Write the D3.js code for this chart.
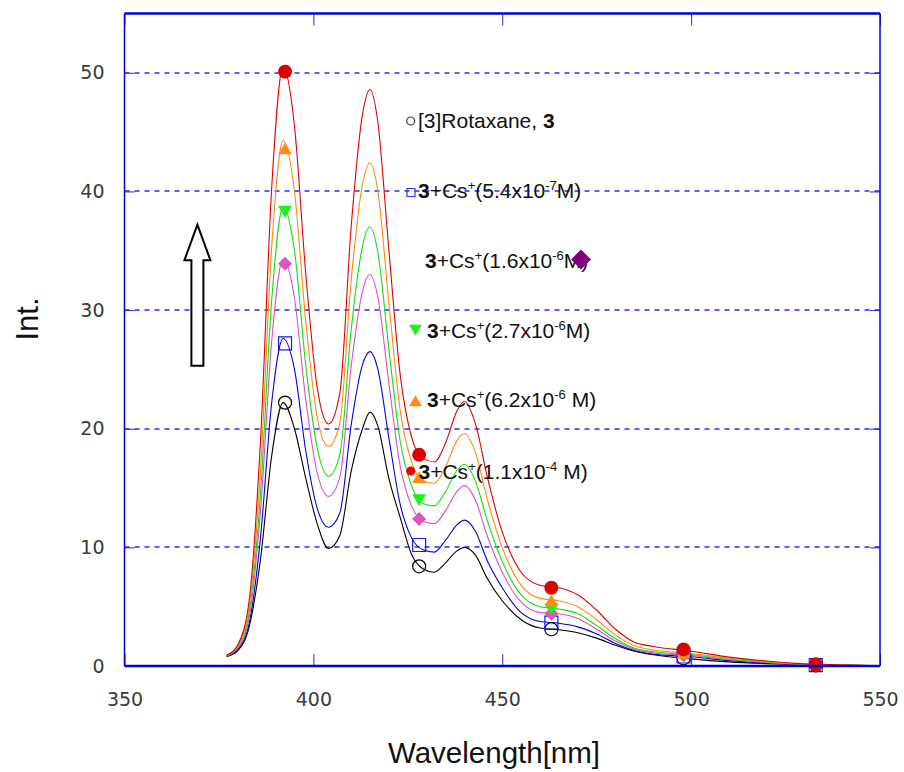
<!DOCTYPE html>
<html>
<head>
<meta charset="utf-8">
<script src="https://cdn.jsdelivr.net/npm/d3@7"></script>
<style>
  body { margin: 0; background: #fff; }
  svg { display: block; }
</style>
</head>
<body>
<svg width="904" height="772"></svg>
<script>
// sample wavelengths of the spectra (nm)
let wavelengths = [377, 380, 383, 386, 389, 392, 395, 398, 401, 404, 407, 410, 413, 415, 417, 420, 423, 426, 429, 432,
  435, 438, 440, 443, 446, 450, 455, 460, 465, 470, 475, 480, 485, 490, 500, 510, 520, 530, 540, 550];

let rotaxane = [0.8, 1.3, 3.3, 9, 17.8, 22.2, 20, 15.8, 12.0, 9.9, 11.0, 16.4, 20, 21.4, 20.3, 15.8, 12.5, 9.4, 8.2, 7.9,
  8.7, 9.7, 10.0, 9.3, 7.4, 5.5, 3.9, 3.2, 3.05, 2.8, 2.35, 1.75, 1.25, 0.95, 0.6, 0.35, 0.2, 0.1, 0.05, 0.02];
let cs54e7 = [0.8, 1.4, 3.6, 10.8, 22.3, 27.6, 25, 18.1, 13.3, 11.7, 12.9, 20.3, 25.4, 26.5, 25.1, 19.2, 13.6, 10.8, 9.8, 9.6,
  10.6, 11.9, 12.3, 11.3, 8.9, 6.6, 4.5, 3.75, 3.6, 3.3, 2.7, 1.9, 1.3, 1.0, 0.78, 0.45, 0.25, 0.11, 0.05, 0.02];
let cs16e6 = [0.85, 1.5, 4.1, 13, 27.5, 34.3, 31, 22.4, 16.3, 14.3, 15.9, 25.2, 31.6, 33, 31.2, 23.8, 16.8, 13.5, 12.2, 12.0,
  13.1, 14.7, 15.2, 13.9, 11.0, 7.9, 5.4, 4.5, 4.4, 4.0, 3.1, 2.1, 1.4, 1.1, 0.88, 0.53, 0.3, 0.13, 0.06, 0.03];
let cs27e6 = [0.85, 1.6, 4.5, 14.5, 31, 38.7, 35, 25.3, 18.4, 16.0, 17.8, 28.3, 35.4, 37, 35, 26.7, 18.9, 15.2, 13.7, 13.5,
  14.7, 16.5, 17.0, 15.5, 12.3, 8.8, 6.0, 5.0, 4.8, 4.4, 3.4, 2.3, 1.5, 1.2, 0.95, 0.58, 0.32, 0.14, 0.06, 0.03];
let cs62e6 = [0.9, 1.7, 5, 16.5, 35.5, 44.3, 40, 29, 21, 18.5, 20.5, 32.5, 40.6, 42.4, 40.2, 30.6, 21.5, 17.2, 15.6, 15.4,
  16.8, 19.0, 19.6, 17.9, 14.1, 10.0, 6.8, 5.7, 5.5, 5.0, 3.9, 2.6, 1.7, 1.35, 1.05, 0.65, 0.36, 0.15, 0.07, 0.03];
let cs11e4 = [0.9, 1.8, 5.5, 19, 40.5, 50.5, 45.5, 33, 23.5, 20.4, 23, 37, 46.5, 48.6, 46, 35, 24.5, 19.3, 17.5, 17.2,
  18.8, 21.5, 22.3, 20.3, 16, 11.3, 7.9, 6.8, 6.6, 6.0, 4.7, 3.1, 2.0, 1.65, 1.25, 0.75, 0.42, 0.18, 0.08, 0.04];

// symbol positions along each spectrum
let markerWl = [392.5, 428, 463, 498, 533];
let mRotaxane = [22.2, 8.4, 3.1, 0.65, 0.05];
let mCs54e7 = [27.2, 10.2, 3.65, 0.8, 0.08];
let mCs16e6 = [33.9, 12.4, 4.4, 0.9, 0.1];
let mCs27e6 = [38.3, 14.0, 4.8, 1.0, 0.1];
let mCs62e6 = [43.6, 15.9, 5.5, 1.1, 0.12];
let mCs11e4 = [50.1, 17.8, 6.6, 1.4, 0.15];

let xTicks = [350, 400, 450, 500, 550];
let yTicks = [0, 10, 20, 30, 40, 50];

let svg = d3.select("svg"),
    width = +svg.attr("width"),
    height = +svg.attr("height");

let x = d3.scaleLinear().domain([350, 550]).range([124.5, 880]);
let y = d3.scaleLinear().domain([0, 55]).range([666, 13.5]);

// custom symbol shapes, size = half width in px
let shapes = {
  circle: (p, r) => { p.moveTo(r, 0); p.arc(0, 0, r, 0, 2 * Math.PI); },
  square: (p, r) => { p.rect(-r, -r, 2 * r, 2 * r); },
  diamond: (p, r) => { p.moveTo(0, -r); p.lineTo(r, 0); p.lineTo(0, r); p.lineTo(-r, 0); p.closePath(); },
  triUp: (p, r) => { p.moveTo(0, -r * 0.9); p.lineTo(r, r * 0.8); p.lineTo(-r, r * 0.8); p.closePath(); },
  triDown: (p, r) => { p.moveTo(0, r * 0.9); p.lineTo(r, -r * 0.8); p.lineTo(-r, -r * 0.8); p.closePath(); }
};
function symbolPath(shape, r) {
  let p = d3.path();
  shapes[shape](p, r);
  return p.toString();
}

let series = [
  {values: rotaxane, marks: mRotaxane, color: "#000000", shape: "circle", r: 6.5, fill: "none", stroke: "#000"},
  {values: cs54e7, marks: mCs54e7, color: "#0000e0", shape: "square", r: 6.5, fill: "none", stroke: "#1a1ad8"},
  {values: cs16e6, marks: mCs16e6, color: "#e050c0", shape: "diamond", r: 7, fill: "#dd55bb", stroke: "none"},
  {values: cs27e6, marks: mCs27e6, color: "#10e010", shape: "triDown", r: 7, fill: "#22ee22", stroke: "none"},
  {values: cs62e6, marks: mCs62e6, color: "#ff8a10", shape: "triUp", r: 7, fill: "#ff8c1a", stroke: "none"},
  {values: cs11e4, marks: mCs11e4, color: "#e00000", shape: "circle", r: 7, fill: "#dd0000", stroke: "none"}
];

// grid lines
svg.append("g")
  .selectAll("line")
  .data(yTicks.filter(d => d > 0))
  .enter().append("line")
  .attr("x1", x(350)).attr("x2", x(550))
  .attr("y1", d => Math.round(y(d))).attr("y2", d => Math.round(y(d)))
  .style("stroke", "#2828f5")
  .attr("stroke-width", 1.3)
  .attr("stroke-dasharray", "5,5");

// spectra
let line = d3.line()
  .x((d, i) => x(wavelengths[i]))
  .y(d => y(d))
  .curve(d3.curveMonotoneX);

svg.append("g")
  .selectAll("path")
  .data(series)
  .enter().append("path")
  .attr("d", d => line(d.values))
  .attr("fill", "none")
  .attr("stroke", d => d.color)
  .attr("stroke-width", 1.1);

// symbols
let mg = svg.append("g");
series.forEach(s => {
  mg.selectAll(null)
    .data(s.marks)
    .enter().append("path")
    .attr("transform", (d, i) => `translate(${x(markerWl[i])},${y(d)})`)
    .attr("d", symbolPath(s.shape, s.r))
    .attr("fill", s.fill)
    .attr("stroke", s.stroke)
    .attr("stroke-width", 1.2);
});

// axes (ticks point inward)
let fontTick = "'DejaVu Sans', sans-serif";
let yAxis = svg.append("g")
  .attr("transform", `translate(${x(350)},0)`)
  .call(d3.axisLeft(y).tickValues(yTicks).tickSize(-10).tickPadding(20).tickFormat(d3.format("d")));
let yAxisR = svg.append("g")
  .attr("transform", `translate(${x(550)},0)`)
  .call(d3.axisRight(y).tickValues(yTicks).tickSize(-10).tickFormat(""));
let xAxis = svg.append("g")
  .attr("transform", `translate(0,${y(0)})`)
  .call(d3.axisBottom(x).tickValues(xTicks).tickSize(-12).tickPadding(27));
let xAxisT = svg.append("g")
  .attr("transform", `translate(0,${y(55)})`)
  .call(d3.axisTop(x).tickValues(xTicks).tickSize(-12).tickFormat(""));

[yAxis, yAxisR, xAxis, xAxisT].forEach(a => {
  a.select(".domain").remove();
  a.selectAll(".tick line").attr("stroke", "#2a2ad8");
  a.selectAll("text")
    .attr("font-family", fontTick)
    .attr("font-size", 19)
    .attr("fill", "#3a3a3a");
});

// frame
let frame = svg.append("g").attr("stroke", "#0000d8");
frame.append("line").attr("x1", x(350)).attr("x2", x(350)).attr("y1", y(55)).attr("y2", y(0)).attr("stroke-width", 1.5);
frame.append("line").attr("x1", x(550)).attr("x2", x(550)).attr("y1", y(55)).attr("y2", y(0)).attr("stroke-width", 1.5);
frame.append("line").attr("x1", x(350)).attr("x2", x(550)).attr("y1", y(55)).attr("y2", y(55)).attr("stroke-width", 2.5);
frame.append("line").attr("x1", x(350)).attr("x2", x(550)).attr("y1", y(0)).attr("y2", y(0)).attr("stroke-width", 2.5);

// axis titles
svg.append("text")
  .attr("x", 494)
  .attr("y", 763)
  .attr("text-anchor", "middle")
  .attr("font-family", "'Liberation Sans', Arial, sans-serif")
  .attr("font-size", 29.5)
  .attr("fill", "#111")
  .text("Wavelength[nm]");

svg.append("text")
  .attr("transform", "translate(38,319) rotate(-90)")
  .attr("text-anchor", "middle")
  .attr("font-family", "'Liberation Sans', Arial, sans-serif")
  .attr("font-size", 31)
  .attr("fill", "#111")
  .text("Int.");

// arrow showing the rise in intensity
let ax = x(369.3), aTop = y(37.2), aHead = y(34.2), aBot = y(25.3);
svg.append("path")
  .attr("d", `M${ax},${aTop} L${ax + 13},${aHead} L${ax + 6},${aHead} L${ax + 6},${aBot} L${ax - 6},${aBot} L${ax - 6},${aHead} L${ax - 13},${aHead} Z`)
  .attr("fill", "#fff")
  .attr("stroke", "#000")
  .attr("stroke-width", 2)
  .attr("stroke-linejoin", "miter");

// legend
let legendLabels = [
  [{t: "[3]Rotaxane, "}, {t: "3", b: true}],
  [{t: "3", b: true}, {t: "+Cs"}, {t: "+", sup: true}, {t: "(5.4x10"}, {t: "-7", sup: true}, {t: "M)"}],
  [{t: "3", b: true}, {t: "+Cs"}, {t: "+", sup: true}, {t: "(1.6x10"}, {t: "-6", sup: true}, {t: "M)"}],
  [{t: "3", b: true}, {t: "+Cs"}, {t: "+", sup: true}, {t: "(2.7x10"}, {t: "-6", sup: true}, {t: "M)"}],
  [{t: "3", b: true}, {t: "+Cs"}, {t: "+", sup: true}, {t: "(6.2x10"}, {t: "-6", sup: true}, {t: " M)"}],
  [{t: "3", b: true}, {t: "+Cs"}, {t: "+", sup: true}, {t: "(1.1x10"}, {t: "-4", sup: true}, {t: " M)"}]
];
let legendPos = [
  {tx: 418, ty: 128, mx: 410.7, my: 121, shape: "circle", r: 4, fill: "none", stroke: "#444"},
  {tx: 418, ty: 198, mx: 411, my: 192.5, shape: "square", r: 4, fill: "none", stroke: "#3333ee"},
  {tx: 425, ty: 268, mx: 581, my: 259.5, shape: "diamond", r: 10, fill: "#7d007d", stroke: "none"},
  {tx: 427, ty: 337.5, mx: 415.5, my: 330, shape: "triDown", r: 6.5, fill: "#22ee22", stroke: "none"},
  {tx: 427, ty: 406.5, mx: 415.5, my: 401, shape: "triUp", r: 6.5, fill: "#ff8c1a", stroke: "none"},
  {tx: 418.5, ty: 478.5, mx: 410.7, my: 471, shape: "circle", r: 4.5, fill: "#ee0000", stroke: "none"}
];

let lg = svg.append("g")
  .attr("font-family", "'Liberation Sans', Arial, sans-serif")
  .attr("font-size", 21)
  .attr("fill", "#111");

legendLabels.forEach((parts, i) => {
  let p = legendPos[i];
  let t = lg.append("text").attr("x", p.tx).attr("y", p.ty);
  let raised = false;
  parts.forEach(part => {
    let ts = t.append("tspan").text(part.t);
    if (part.b) ts.attr("font-weight", "bold");
    if (part.sup) {
      ts.attr("font-size", 13).attr("dy", -8);
      raised = true;
    } else if (raised) {
      ts.attr("dy", 8);
      raised = false;
    }
  });
  lg.append("path")
    .attr("transform", `translate(${p.mx},${p.my})`)
    .attr("d", symbolPath(p.shape, p.r))
    .attr("fill", p.fill)
    .attr("stroke", p.stroke)
    .attr("stroke-width", 1.2);
});
</script>
</body>
</html>
